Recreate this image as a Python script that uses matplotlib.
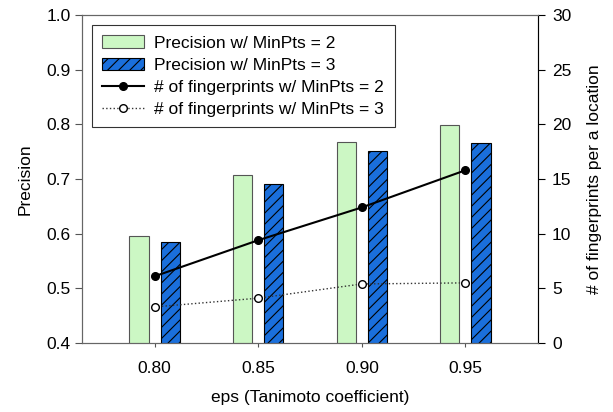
import numpy as np
import matplotlib
matplotlib.use('Agg')
import matplotlib.pyplot as plt

plt.rcParams['font.family'] = ['Liberation Sans', 'DejaVu Sans']
plt.rcParams['hatch.linewidth'] = 0.8

eps = [0.80, 0.85, 0.90, 0.95]
prec_minpts2 = [0.595, 0.707, 0.768, 0.799]
prec_minpts3 = [0.584, 0.690, 0.751, 0.765]
fp_minpts2 = [6.1, 9.4, 12.4, 15.8]
fp_minpts3 = [3.3, 4.1, 5.4, 5.5]

x = np.array(eps)
bar_w = 0.0092
offset = 0.0075
fs = 12.5

fig = plt.figure(figsize=(6.13, 4.12), dpi=100)
ax = fig.add_axes([82 / 613, 1 - 343 / 412, 456 / 613, 328 / 412])

b1 = ax.bar(x - offset, prec_minpts2, width=bar_w, bottom=0, color='#ccf7c4',
            edgecolor='#555555', linewidth=0.8, label='Precision w/ MinPts = 2')
b2 = ax.bar(x + offset, prec_minpts3, width=bar_w, bottom=0, color='#1a6fdc',
            edgecolor='black', hatch='///', linewidth=0.8, label='Precision w/ MinPts = 3')
ax.set_xlim(0.765, 0.985)
ax.set_ylim(0.4, 1.0)
ax.set_xticks(eps)
ax.set_xticklabels(['0.80', '0.85', '0.90', '0.95'])
ax.set_yticks([0.4, 0.5, 0.6, 0.7, 0.8, 0.9, 1.0])
ax.set_yticklabels(['0.4', '0.5', '0.6', '0.7', '0.8', '0.9', '1.0'])
ax.set_xlabel('eps (Tanimoto coefficient)', fontsize=fs, labelpad=10)
ax.set_ylabel('Precision', fontsize=fs, labelpad=10)
ax.tick_params(labelsize=fs, direction='out', color='#555555')
ax.tick_params(axis='x', length=3, pad=10)
ax.tick_params(axis='y', length=5, pad=3)
for s in ['left', 'top', 'bottom', 'right']:
    ax.spines[s].set_color('#666666')

ax2 = ax.twinx()
l1, = ax2.plot(x, fp_minpts2, '-o', color='black', markersize=5.5, linewidth=1.5,
               label='# of fingerprints w/ MinPts = 2')
l2, = ax2.plot(x, fp_minpts3, ':o', color='#333333', markerfacecolor='white',
               markeredgecolor='black', markersize=5.5, linewidth=1.0,
               label='# of fingerprints w/ MinPts = 3')
ax2.set_ylim(0, 30)
ax2.set_yticks([0, 5, 10, 15, 20, 25, 30])
ax2.set_ylabel('# of fingerprints per a location', fontsize=fs, labelpad=11)
ax2.tick_params(labelsize=fs, direction='out', length=5, pad=5)
ax2.spines['right'].set_color('black')
ax2.spines['top'].set_color('#666666')
ax2.spines['left'].set_color('#666666')
ax2.spines['bottom'].set_color('#666666')

leg = ax2.legend(handles=[b1, b2, l1, l2], loc='upper left',
                 bbox_to_anchor=(10 / 456, 1 - 10 / 328), fontsize=fs,
                 frameon=True, fancybox=False, shadow=False, borderaxespad=0,
                 handlelength=2.4, handletextpad=0.6, labelspacing=0.4,
                 borderpad=0.6)
leg.get_frame().set_edgecolor('black')
leg.get_frame().set_linewidth(0.8)

fig.savefig('out.png', dpi=100)
